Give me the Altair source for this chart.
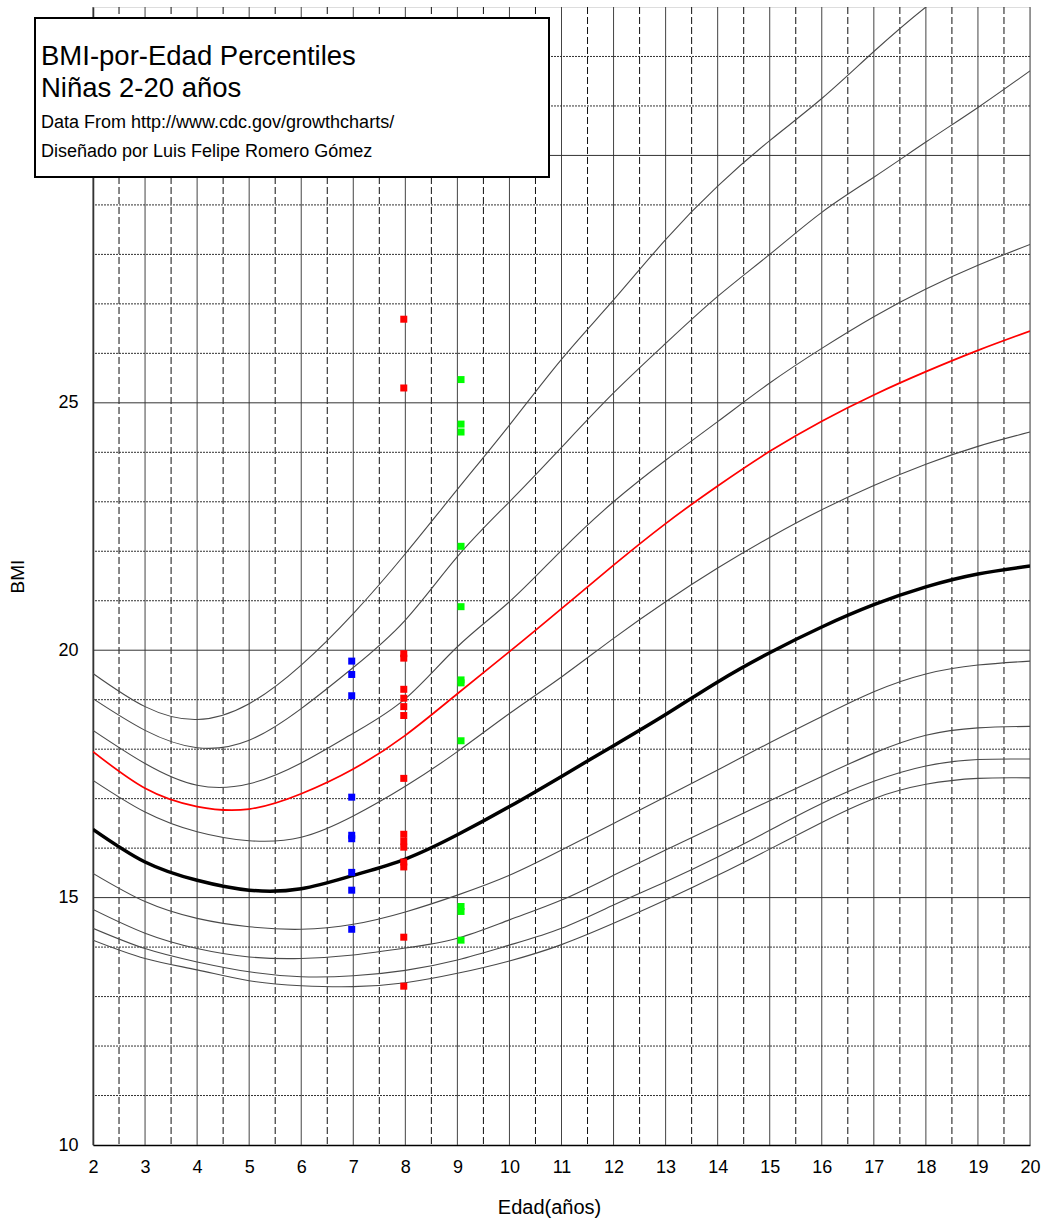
import altair as alt
import pandas as pd

# ---- data ----
ages = [2, 3, 4, 5, 6, 7, 8, 9, 10, 11, 12, 13, 14, 15, 16, 17, 18, 19, 20]
p3 = [14.14, 13.77, 13.54, 13.32, 13.22, 13.20, 13.28, 13.47, 13.72, 14.05, 14.48, 14.95, 15.45, 15.98, 16.52, 17.00, 17.29, 17.41, 17.42]
p5 = [14.38, 13.97, 13.70, 13.50, 13.40, 13.42, 13.53, 13.74, 14.04, 14.38, 14.85, 15.32, 15.82, 16.36, 16.90, 17.35, 17.66, 17.79, 17.80]
p10 = [14.76, 14.28, 13.97, 13.80, 13.77, 13.84, 13.98, 14.18, 14.55, 14.95, 15.45, 15.96, 16.46, 16.96, 17.45, 17.92, 18.28, 18.43, 18.46]
p25 = [15.49, 14.92, 14.58, 14.41, 14.36, 14.46, 14.71, 15.05, 15.45, 15.96, 16.50, 17.04, 17.58, 18.13, 18.66, 19.16, 19.52, 19.70, 19.78]
p50 = [16.38, 15.72, 15.35, 15.15, 15.18, 15.45, 15.78, 16.27, 16.84, 17.45, 18.07, 18.70, 19.36, 19.95, 20.47, 20.92, 21.28, 21.54, 21.70]
p75 = [17.37, 16.73, 16.33, 16.15, 16.22, 16.65, 17.25, 17.95, 18.72, 19.46, 20.24, 20.98, 21.66, 22.28, 22.84, 23.33, 23.76, 24.12, 24.41]
p85 = [17.95, 17.21, 16.84, 16.79, 17.10, 17.60, 18.28, 19.12, 19.97, 20.84, 21.72, 22.56, 23.32, 24.02, 24.63, 25.16, 25.63, 26.06, 26.45]
p90 = [18.38, 17.71, 17.27, 17.30, 17.72, 18.32, 19.02, 20.07, 20.98, 22.02, 23.00, 23.84, 24.62, 25.40, 26.10, 26.74, 27.30, 27.78, 28.20]
p95 = [19.02, 18.38, 18.03, 18.18, 18.82, 19.65, 20.61, 21.89, 23.00, 24.10, 25.20, 26.20, 27.15, 28.00, 28.85, 29.56, 30.27, 30.97, 31.71]
p97 = [19.53, 18.86, 18.60, 18.92, 19.70, 20.74, 21.95, 23.25, 24.55, 25.88, 27.08, 28.30, 29.38, 30.30, 31.15, 32.10, 33.00, 33.80, 34.60]

blue_age = 6.97
blue_bmi = [19.78, 19.51, 19.08, 17.03, 16.26, 16.19, 15.51, 15.15, 14.36]
red_age = 7.97
red_bmi = [26.69, 25.30, 19.93, 19.84, 19.21, 19.03, 18.86, 18.68, 17.41, 16.28, 16.14, 16.02, 15.72, 15.62, 14.20, 13.21]
green_age = 9.07
green_bmi = [25.47, 24.57, 24.41, 22.10, 20.88, 19.40, 19.34, 18.17, 14.82, 14.72, 14.14]

x_ticks = list(range(2, 21))
y_ticks = [10, 15, 20, 25]
x_half = [a + 0.5 for a in range(2, 20)]
y_major = [15, 20, 25, 30]
y_minor = [v for v in range(11, 33) if v % 5 != 0]

title_lines = [
    "BMI-por-Edad Percentiles",
    "Niñas 2-20 años",
    "Data From http://www.cdc.gov/growthcharts/",
    "Diseñado por Luis Felipe Romero Gómez",
]
x_title = "Edad(años)"
y_title = "BMI"

# ---- tables ----
curve_map = {"P3": p3, "P5": p5, "P10": p10, "P25": p25, "P50": p50,
             "P75": p75, "P85": p85, "P90": p90, "P95": p95, "P97": p97}
rows = []
for name, vals in curve_map.items():
    for a, v in zip(ages, vals):
        rows.append({"age": a, "bmi": v, "pct": name})
curves = pd.DataFrame(rows)
thin = curves[~curves["pct"].isin(["P50", "P85"])]
red = curves[curves["pct"] == "P85"]
median = curves[curves["pct"] == "P50"]

pts = pd.DataFrame(
    [{"age": blue_age, "bmi": b, "g": "a"} for b in blue_bmi]
    + [{"age": red_age, "bmi": b, "g": "b"} for b in red_bmi]
    + [{"age": green_age, "bmi": b, "g": "c"} for b in green_bmi]
)

FONT = "Liberation Sans"
xs = alt.Scale(domain=[2, 20], nice=False, zero=False)
ys = alt.Scale(domain=[10, 33], nice=False, zero=False)

xaxis = alt.Axis(values=x_ticks, grid=False, ticks=False, labelFontSize=18,
                 labelFont=FONT, labelColor="black", labelPadding=13,
                 labelFlush=False, labelOverlap=False,
                 domainColor="black", domainWidth=1.5, title=x_title,
                 titleFont=FONT, titleFontSize=20, titleFontWeight="normal",
                 titleColor="black", titleX=456, titleY=68, titleAlign="center",
                 titleBaseline="alphabetic")
yaxis = alt.Axis(values=y_ticks, grid=False, ticks=False, labelFontSize=18,
                 labelFont=FONT, labelColor="black", labelPadding=15,
                 labelFlush=False, labelOverlap=False,
                 domainColor="#222", domainWidth=1.5, title=y_title,
                 titleFont=FONT, titleFontSize=19, titleFontWeight="normal",
                 titleColor="black", titleAngle=270, titleX=-70, titleY=569,
                 titleAlign="center", titleBaseline="alphabetic")


def X(field):
    return alt.X(field, type="quantitative", scale=xs, axis=xaxis)


def Y(field):
    return alt.Y(field, type="quantitative", scale=ys, axis=yaxis)


vsolid = alt.Chart(pd.DataFrame({"v": x_ticks})).mark_rule(
    color="#444", strokeWidth=1).encode(x=X("v"))
vdash = alt.Chart(pd.DataFrame({"v": x_half})).mark_rule(
    color="#111", strokeWidth=1, strokeDash=[7, 3]).encode(x=X("v"))
hdot = alt.Chart(pd.DataFrame({"v": y_minor})).mark_rule(
    color="#333", strokeWidth=1, strokeDash=[2, 1]).encode(y=Y("v"))
hsolid = alt.Chart(pd.DataFrame({"v": y_major})).mark_rule(
    color="#333", strokeWidth=1).encode(y=Y("v"))

thin_lines = alt.Chart(thin).mark_line(
    color="#4a4a4a", strokeWidth=1.1, interpolate="natural", clip=True
).encode(x=X("age"), y=Y("bmi"), detail="pct:N")
red_line = alt.Chart(red).mark_line(
    color="#ff0000", strokeWidth=1.7, interpolate="natural", clip=True
).encode(x=X("age"), y=Y("bmi"))
median_line = alt.Chart(median).mark_line(
    color="#000000", strokeWidth=3.5, interpolate="natural", clip=True
).encode(x=X("age"), y=Y("bmi"))

points = alt.Chart(pts).mark_square(size=49, opacity=1).encode(
    x=X("age"), y=Y("bmi"),
    color=alt.Color("g:N", scale=alt.Scale(domain=["a", "b", "c"],
                                           range=["#0000ff", "#ff0000", "#00ff00"]),
                    legend=None),
)

box = alt.Chart(pd.DataFrame({"k": [0]})).mark_rect(
    fill="white", stroke="black", strokeWidth=2
).encode(x=alt.value(-58), x2=alt.value(456), y=alt.value(11), y2=alt.value(170))

text_pos = [(58, 27.5), (90, 27.5), (121, 18), (150, 18)]
texts = []
for line, (yy, fs) in zip(title_lines, text_pos):
    texts.append(
        alt.Chart(pd.DataFrame({"t": [line]})).mark_text(
            align="left", baseline="alphabetic", font=FONT, fontSize=fs, color="black"
        ).encode(text="t:N", x=alt.value(-52), y=alt.value(yy))
    )

chart = alt.layer(vsolid, vdash, hdot, hsolid, thin_lines, red_line, median_line,
                  points, box, *texts).properties(
    width=937, height=1138,
    autosize=alt.AutoSizeParams(type="none"),
    padding={"left": 93, "top": 7, "right": 21, "bottom": 77},
).configure_view(stroke="#888", strokeWidth=2).configure(background="white")

chart.save("out.html", embed_options={"renderer": "svg", "actions": False})
